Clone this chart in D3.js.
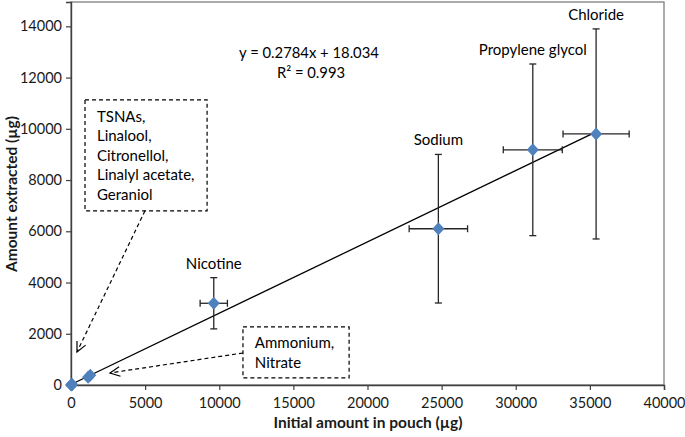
<!DOCTYPE html>
<html><head><meta charset="utf-8">
<script src="https://cdn.jsdelivr.net/npm/d3@7"></script>
<style>
body{margin:0;background:#fff;}
text{font-family:Lato,"Open Sans",sans-serif;}
</style></head>
<body><svg id="chart" width="685" height="437"></svg>
<script>
const names  = ["TSNAs","Linalool","Citronellol","Linalyl acetate","Geraniol","Ammonium","Nitrate","Nicotine","Sodium","Propylene glycol","Chloride"];
const xVals  = [5, 60, 40, 80, 30, 1150, 1300, 9630, 24780, 31150, 35420];
const yVals  = [2, 15, 10, 20, 8, 300, 380, 3190, 6100, 9180, 9800];
const xErr   = [0, 0, 0, 0, 0, 0, 0, 920, 1970, 1990, 2230];
const yErr   = [0, 0, 0, 0, 0, 0, 0, 1000, 2900, 3350, 4100];
const labelled = ["Nicotine","Sodium","Propylene glycol","Chloride"];
const xTicks = [0,5000,10000,15000,20000,25000,30000,35000,40000];
const yTicks = [0,2000,4000,6000,8000,10000,12000,14000];
const slope = 0.2784, intercept = 18.034;
const eqText = "y = 0.2784x + 18.034", r2Text = "R² = 0.993";
const boxTextA = ["TSNAs,","Linalool,","Citronellol,","Linalyl acetate,","Geraniol"];
const boxTextB = ["Ammonium,","Nitrate"];

const W=685,H=437, m={l:71,r:21,t:2,b:52};
const svg=d3.select("#chart");
const x=d3.scaleLinear().domain([0,40000]).range([m.l,W-m.r]);
const y=d3.scaleLinear().domain([0,14950]).range([H-m.b,m.t]);

// frame
svg.append("rect").attr("x",m.l).attr("y",m.t).attr("width",W-m.r-m.l).attr("height",H-m.b-m.t)
  .attr("fill","none").attr("stroke","#7f7f7f").attr("stroke-width",1.3);

const xa=svg.append("g").attr("transform",`translate(0,${H-m.b})`)
  .call(d3.axisBottom(x).tickValues(xTicks).tickSize(5).tickPadding(5).tickFormat(d3.format("d")));
const ya=svg.append("g").attr("transform",`translate(${m.l},0)`)
  .call(d3.axisLeft(y).tickValues(yTicks).tickSize(5).tickPadding(4).tickFormat(d3.format("d")));
[xa,ya].forEach(g=>{
  g.select(".domain").attr("stroke","#404040").attr("stroke-width",1.4);
  g.selectAll(".tick line").attr("stroke","#404040").attr("stroke-width",1.2);
  g.selectAll(".tick text").attr("fill","#1a1a1a").style("font-size","14.5px").style("font-family","Lato");
});
xa.selectAll(".tick text").attr("dy","0.9em");

// axis titles
svg.append("text").attr("x",368).attr("y",428).attr("text-anchor","middle")
  .style("font-weight","bold").style("font-size","15.5px").attr("fill","#1a1a1a").text("Initial amount in pouch (µg)");
svg.append("text").attr("transform","translate(17,194) rotate(-90)").attr("text-anchor","middle")
  .style("font-weight","bold").style("font-size","15.5px").attr("fill","#1a1a1a").text("Amount extracted (µg)");

const data=names.map((n,i)=>({n,x:xVals[i],y:yVals[i],ex:xErr[i],ey:yErr[i]}));

// trendline
const xmax=d3.max(xVals);
svg.append("line").attr("x1",x(0)).attr("y1",y(intercept)).attr("x2",x(xmax)).attr("y2",y(slope*xmax+intercept))
  .attr("stroke","#000").attr("stroke-width",1.3);

// error bars
const eb=svg.append("g").attr("stroke","#262626").attr("stroke-width",1.3);
data.filter(d=>d.ey>0).forEach(d=>{
  const cx=x(d.x), cy=y(d.y), c=3.5;
  eb.append("line").attr("x1",cx).attr("x2",cx).attr("y1",y(d.y-d.ey)).attr("y2",y(d.y+d.ey));
  eb.append("line").attr("x1",cx-c).attr("x2",cx+c).attr("y1",y(d.y-d.ey)).attr("y2",y(d.y-d.ey));
  eb.append("line").attr("x1",cx-c).attr("x2",cx+c).attr("y1",y(d.y+d.ey)).attr("y2",y(d.y+d.ey));
  eb.append("line").attr("x1",x(d.x-d.ex)).attr("x2",x(d.x+d.ex)).attr("y1",cy).attr("y2",cy);
  eb.append("line").attr("x1",x(d.x-d.ex)).attr("x2",x(d.x-d.ex)).attr("y1",cy-c).attr("y2",cy+c);
  eb.append("line").attr("x1",x(d.x+d.ex)).attr("x2",x(d.x+d.ex)).attr("y1",cy-c).attr("y2",cy+c);
});

// markers
svg.append("g").selectAll("path").data(data).join("path")
  .attr("transform",d=>`translate(${x(d.x)},${y(d.y)})`)
  .attr("d","M0,-6.5L6,0L0,6.5L-6,0Z").attr("fill","#4F81BD");

// point labels
svg.append("g").selectAll("text").data(data.filter(d=>labelled.includes(d.n))).join("text")
  .attr("x",d=>x(d.x)).attr("y",d=>y(d.y+d.ey)-9).attr("text-anchor","middle")
  .style("font-size","15px").attr("fill","#000").text(d=>d.n);

// equation
svg.append("text").attr("x",309).attr("y",58).attr("text-anchor","middle").style("font-size","14.8px").text(eqText);
svg.append("text").attr("x",311).attr("y",78).attr("text-anchor","middle").style("font-size","14.8px").text(r2Text);

// annotation boxes (positioned in data units)
const dash="4,3";
function box(x0,y0,x1,y1){
  svg.append("rect").attr("x",x(x0)).attr("y",y(y0)).attr("width",x(x1)-x(x0)).attr("height",y(y1)-y(y0))
    .attr("fill","#fff").attr("stroke","#000").attr("stroke-width",1.2).attr("stroke-dasharray",dash);
}
function arrow(x0,y0,x1,y1){
  const X0=x(x0),Y0=y(y0),X1=x(x1),Y1=y(y1);
  svg.append("line").attr("x1",X0).attr("y1",Y0).attr("x2",X1).attr("y2",Y1)
    .attr("stroke","#000").attr("stroke-width",1.2).attr("stroke-dasharray",dash);
  const a=Math.atan2(Y1-Y0,X1-X0), L=11, s=0.45;
  const p=[[X1-L*Math.cos(a-s),Y1-L*Math.sin(a-s)],[X1,Y1],[X1-L*Math.cos(a+s),Y1-L*Math.sin(a+s)]];
  svg.append("path").attr("d",d3.line()(p)).attr("fill","none").attr("stroke","#000").attr("stroke-width",1.2);
}
box(945,11130,9180,6800);
arrow(4990,6800,405,1290);
const ta=svg.append("text").style("font-size","15px");
boxTextA.forEach((t,i)=>ta.append("tspan").attr("x",x(1750)).attr("y",122+i*19.4).text(t));
box(11600,2270,18760,275);
arrow(11600,1250,2630,470);
const tb=svg.append("text").style("font-size","15px");
boxTextB.forEach((t,i)=>tb.append("tspan").attr("x",x(12400)).attr("y",348+i*20).text(t));
</script></body></html>
